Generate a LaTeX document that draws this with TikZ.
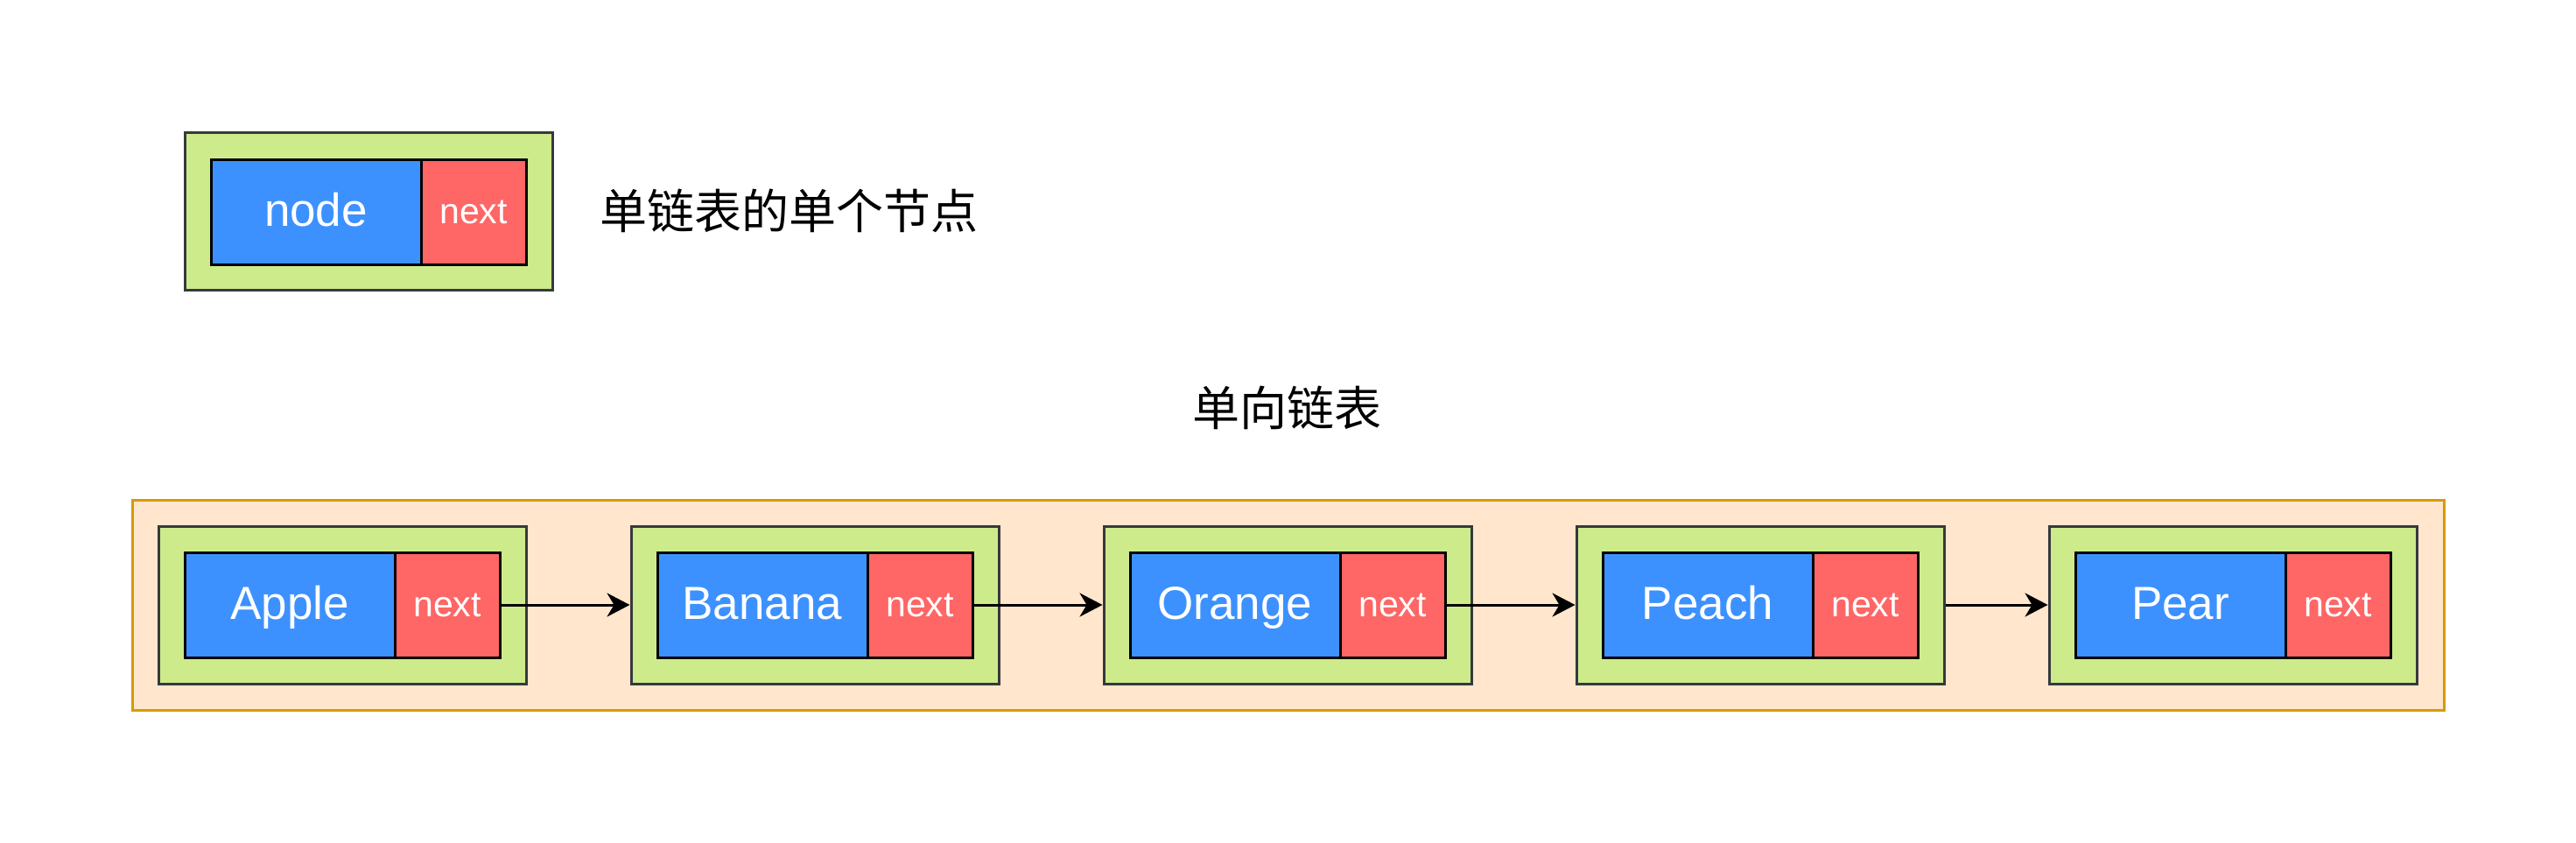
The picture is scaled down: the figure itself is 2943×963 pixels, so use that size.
\documentclass[tikz,border=0pt]{standalone}
\usepackage{fontspec}
\setmainfont{Liberation Sans}
\newfontfamily\cjk{Noto Sans CJK SC}
\usetikzlibrary{arrows.meta}
\definecolor{nodeblue}{HTML}{3C91FF}
\definecolor{nodered}{HTML}{FF6666}
\definecolor{nodegreen}{HTML}{CDEB8B}
\definecolor{nodestroke}{HTML}{36393D}
\definecolor{listfill}{HTML}{FFE6CC}
\definecolor{liststroke}{HTML}{D79B00}
\tikzset{
  outerbox/.style={draw=nodestroke, fill=nodegreen, line width=3pt, minimum width=420pt, minimum height=180pt, inner sep=0pt},
  databox/.style={draw=black, fill=nodeblue, line width=3pt, minimum width=240pt, minimum height=120pt, inner sep=0pt, text=white, text height=40pt, text depth=8pt, font=\fontsize{53}{60}\selectfont},
  nextbox/.style={draw=black, fill=nodered, line width=3pt, minimum width=120pt, minimum height=120pt, inner sep=0pt, text=white, text height=32pt, text depth=6pt, font=\fontsize{41}{48}\selectfont},
  listbox/.style={draw=liststroke, fill=listfill, line width=3pt, minimum width=2641pt, minimum height=240pt, inner sep=0pt},
  link/.style={draw=black, line width=3pt, -{Stealth[length=26pt, width=27pt, inset=8pt]}},
  cjklabel/.style={font=\cjk\fontsize{54}{60}\selectfont, inner sep=0pt}
}
\begin{document}
\begin{tikzpicture}[x=1pt, y=-1pt]
\useasboundingbox (0,0) rectangle (2943,963);
% single node legend
\node[outerbox] (legend) at (421.5,241.5) {};
\node[databox] (legenddata) at (361,242) {node};
\node[nextbox] (legendnext) at (541,242) {next};
\node[cjklabel, anchor=west] (legendtext) at (685,241) {单链表的单个节点};
% title
\node[cjklabel] (title) at (1470,466) {单向链表};
% list container
\node[listbox] (list) at (1471.5,691) {};
% list nodes
\foreach \name/\txt/\x in {a/Apple/391, b/Banana/931, c/Orange/1471, d/Peach/2011, e/Pear/2551} {
  \node[outerbox] (\name o) at (\x,691) {};
  \node[databox] (\name d) at (\x-60,691) {\txt};
  \node[nextbox] (\name n) at (\x+120,691) {next};
}
\draw[link] (an.east) -- (bo.west);
\draw[link] (bn.east) -- (co.west);
\draw[link] (cn.east) -- (do.west);
\draw[link] (do.east) -- (eo.west);
\end{tikzpicture}
\end{document}
